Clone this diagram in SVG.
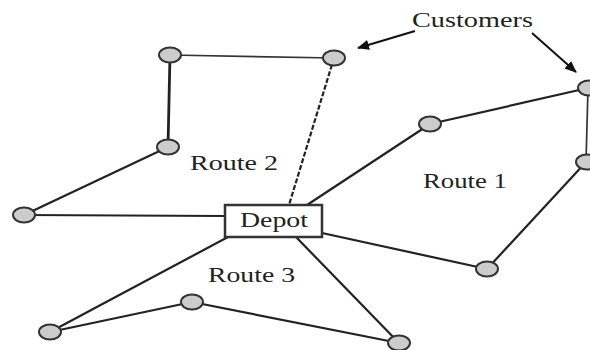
<svg xmlns="http://www.w3.org/2000/svg" width="590" height="350" viewBox="0 0 590 350">
<defs>
<style>
.e{stroke:#222;stroke-width:2.2;fill:none}
.thin{stroke:#333;stroke-width:1.7}
.thick{stroke-width:2.8}
.dash{stroke-dasharray:5 2}
.n{fill:#cccccc;stroke:#333;stroke-width:2}
.t{font-family:"Liberation Serif",serif;font-size:21px;fill:#222}
.a{stroke:#111;stroke-width:2;fill:none}
</style>
<marker id="ah" viewBox="0 0 12 10" refX="11" refY="5" markerWidth="12" markerHeight="10" markerUnits="userSpaceOnUse" orient="auto">
<path d="M0,0 L12,5 L0,10 Z" fill="#111"/>
</marker>
</defs>
<rect width="590" height="350" fill="#fff"/>
<g id="connectors">
<line class="e thin" x1="170" y1="55" x2="334" y2="58"/>
<line class="e thick" x1="170" y1="55" x2="168" y2="147"/>
<line class="e" x1="168" y1="147" x2="24" y2="215"/>
<line class="e" x1="24" y1="215" x2="225" y2="216"/>
<line class="e dash" x1="334" y1="58" x2="289" y2="205"/>
<line class="e" x1="307" y1="205" x2="430" y2="124"/>
<line class="e" x1="430" y1="124" x2="588" y2="88"/>
<line class="e thin" x1="588" y1="88" x2="586" y2="162"/>
<line class="e" x1="586" y1="162" x2="487" y2="269"/>
<line class="e" x1="322" y1="233" x2="487" y2="269"/>
<line class="e" x1="228" y1="237" x2="50" y2="332"/>
<line class="e" x1="50" y1="332" x2="192" y2="302"/>
<line class="e" x1="192" y1="302" x2="399" y2="343"/>
<line class="e" x1="296" y1="237" x2="399" y2="343"/>
<line class="a" x1="415" y1="31" x2="358" y2="48" marker-end="url(#ah)"/>
<line class="a" x1="532" y1="33" x2="576" y2="72" marker-end="url(#ah)"/>
</g>
<g id="depot">
<rect x="225" y="205" width="97" height="32" fill="#fff" stroke="#333" stroke-width="2.5"/>
<text class="t" x="240" y="227" textLength="68" lengthAdjust="spacingAndGlyphs">Depot</text>
</g>
<g id="n1"><ellipse class="n" cx="170" cy="55" rx="11" ry="7.5"/></g>
<g id="n2"><ellipse class="n" cx="334" cy="58" rx="11" ry="7.5"/></g>
<g id="n3"><ellipse class="n" cx="168" cy="147" rx="11" ry="7.5"/></g>
<g id="n4"><ellipse class="n" cx="24" cy="215" rx="11" ry="7.5"/></g>
<g id="n5"><ellipse class="n" cx="430" cy="124" rx="11" ry="7.5"/></g>
<g id="n6"><ellipse class="n" cx="589" cy="88" rx="11" ry="7.5"/></g>
<g id="n7"><ellipse class="n" cx="587" cy="162" rx="11" ry="7.5"/></g>
<g id="n8"><ellipse class="n" cx="487" cy="269" rx="11" ry="7.5"/></g>
<g id="n9"><ellipse class="n" cx="192" cy="302" rx="11" ry="7.5"/></g>
<g id="n10"><ellipse class="n" cx="50" cy="332" rx="11" ry="7.5"/></g>
<g id="n11"><ellipse class="n" cx="399" cy="343" rx="11" ry="7.5"/></g>
<g id="labels">
<text class="t" x="412" y="27" textLength="121" lengthAdjust="spacingAndGlyphs">Customers</text>
<text class="t" x="190" y="170" textLength="88" lengthAdjust="spacingAndGlyphs">Route 2</text>
<text class="t" x="423" y="188" textLength="84" lengthAdjust="spacingAndGlyphs">Route 1</text>
<text class="t" x="208" y="282" textLength="87" lengthAdjust="spacingAndGlyphs">Route 3</text>
</g>
</svg>
